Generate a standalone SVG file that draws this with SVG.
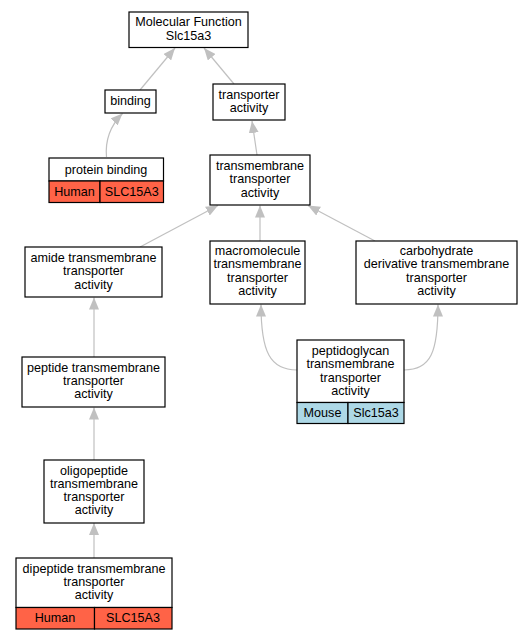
<svg xmlns="http://www.w3.org/2000/svg" width="532" height="640" viewBox="0 0 532 640">
<style>
.n{fill:#fff;stroke:#000;stroke-width:1.2}
.h{fill:#ff6347;stroke:#000;stroke-width:1.2}
.m{fill:#add8e6;stroke:#000;stroke-width:1.2}
text{font-family:"Liberation Sans",Arial,sans-serif;font-size:12.6px;text-anchor:middle;fill:#000}
.e path{fill:none;stroke:#c0c0c0;stroke-width:1.2;marker-end:url(#a)}
</style>
<defs>
<marker id="a" markerWidth="12" markerHeight="10" refX="12" refY="5" orient="auto" markerUnits="userSpaceOnUse">
<polygon points="0,0 12,5 0,10" fill="#c0c0c0"/>
</marker>
</defs>
<rect width="532" height="640" fill="#fff"/>
<g class="e" id="edges">
<path d="M140,90 L175,48"/>
<path d="M234,84 L204,48"/>
<path d="M106.5,157 C105,140 110,126 122.5,113.5"/>
<path d="M257,155 L252,121"/>
<path d="M140,247 L218,205.5"/>
<path d="M260,241 L260,205.5"/>
<path d="M375,241 L308,205.5"/>
<path d="M297,370 C270,370 261,352 261,304.5"/>
<path d="M404,370 C431,370 438,352 438,304.5"/>
<path d="M94,357 L94,297.5"/>
<path d="M94,460 L94,407.5"/>
<path d="M94,558 L94,523"/>
</g>
<g id="mf">
<rect class="n" x="129" y="12" width="119" height="35.5"/>
<text x="188.5" y="26">Molecular Function</text>
<text x="188.5" y="39.5">Slc15a3</text>
</g>
<g id="binding">
<rect class="n" x="105" y="90" width="51" height="23"/>
<text x="130.5" y="105">binding</text>
</g>
<g id="transporter">
<rect class="n" x="213" y="84" width="72" height="36"/>
<text x="249" y="98.5">transporter</text>
<text x="249" y="111.5">activity</text>
</g>
<g id="protein_binding">
<rect class="n" x="49" y="158" width="114.5" height="23"/>
<rect class="h" x="49" y="181" width="51" height="21.5"/>
<rect class="h" x="100" y="181" width="63.5" height="21.5"/>
<text x="106" y="173.5">protein binding</text>
<text x="74.5" y="196">Human</text>
<text x="131.75" y="196">SLC15A3</text>
</g>
<g id="transmembrane">
<rect class="n" x="210" y="155" width="100" height="50"/>
<text x="260" y="170">transmembrane</text>
<text x="260" y="183.3">transporter</text>
<text x="260" y="196.6">activity</text>
</g>
<g id="amide">
<rect class="n" x="25" y="247" width="137" height="50"/>
<text x="93.5" y="262">amide transmembrane</text>
<text x="93.5" y="275.3">transporter</text>
<text x="93.5" y="288.6">activity</text>
</g>
<g id="macromolecule">
<rect class="n" x="210" y="241" width="95" height="63"/>
<text x="257.5" y="255">macromolecule</text>
<text x="257.5" y="268.3">transmembrane</text>
<text x="257.5" y="281.6">transporter</text>
<text x="257.5" y="295">activity</text>
</g>
<g id="carbohydrate">
<rect class="n" x="356" y="241" width="161" height="63"/>
<text x="436.5" y="255">carbohydrate</text>
<text x="436.5" y="268.3">derivative transmembrane</text>
<text x="436.5" y="281.6">transporter</text>
<text x="436.5" y="295">activity</text>
</g>
<g id="peptidoglycan">
<rect class="n" x="297" y="340" width="107" height="62.5"/>
<rect class="m" x="297" y="402.5" width="51" height="21"/>
<rect class="m" x="348" y="402.5" width="56" height="21"/>
<text x="350.5" y="355">peptidoglycan</text>
<text x="350.5" y="368.3">transmembrane</text>
<text x="350.5" y="381.6">transporter</text>
<text x="350.5" y="395">activity</text>
<text x="322.5" y="417">Mouse</text>
<text x="376" y="417">Slc15a3</text>
</g>
<g id="peptide">
<rect class="n" x="22" y="357" width="143" height="50"/>
<text x="93.5" y="371.5">peptide transmembrane</text>
<text x="93.5" y="384.8">transporter</text>
<text x="93.5" y="398.1">activity</text>
</g>
<g id="oligopeptide">
<rect class="n" x="44" y="460" width="100" height="63"/>
<text x="94" y="474.5">oligopeptide</text>
<text x="94" y="487.8">transmembrane</text>
<text x="94" y="501.1">transporter</text>
<text x="94" y="514.4">activity</text>
</g>
<g id="dipeptide">
<rect class="n" x="16" y="558" width="156" height="49.5"/>
<rect class="h" x="16" y="607.5" width="78.5" height="21.5"/>
<rect class="h" x="94.5" y="607.5" width="77.5" height="21.5"/>
<text x="94" y="572.5">dipeptide transmembrane</text>
<text x="94" y="585.8">transporter</text>
<text x="94" y="599.1">activity</text>
<text x="55" y="622">Human</text>
<text x="133" y="622">SLC15A3</text>
</g>
</svg>
